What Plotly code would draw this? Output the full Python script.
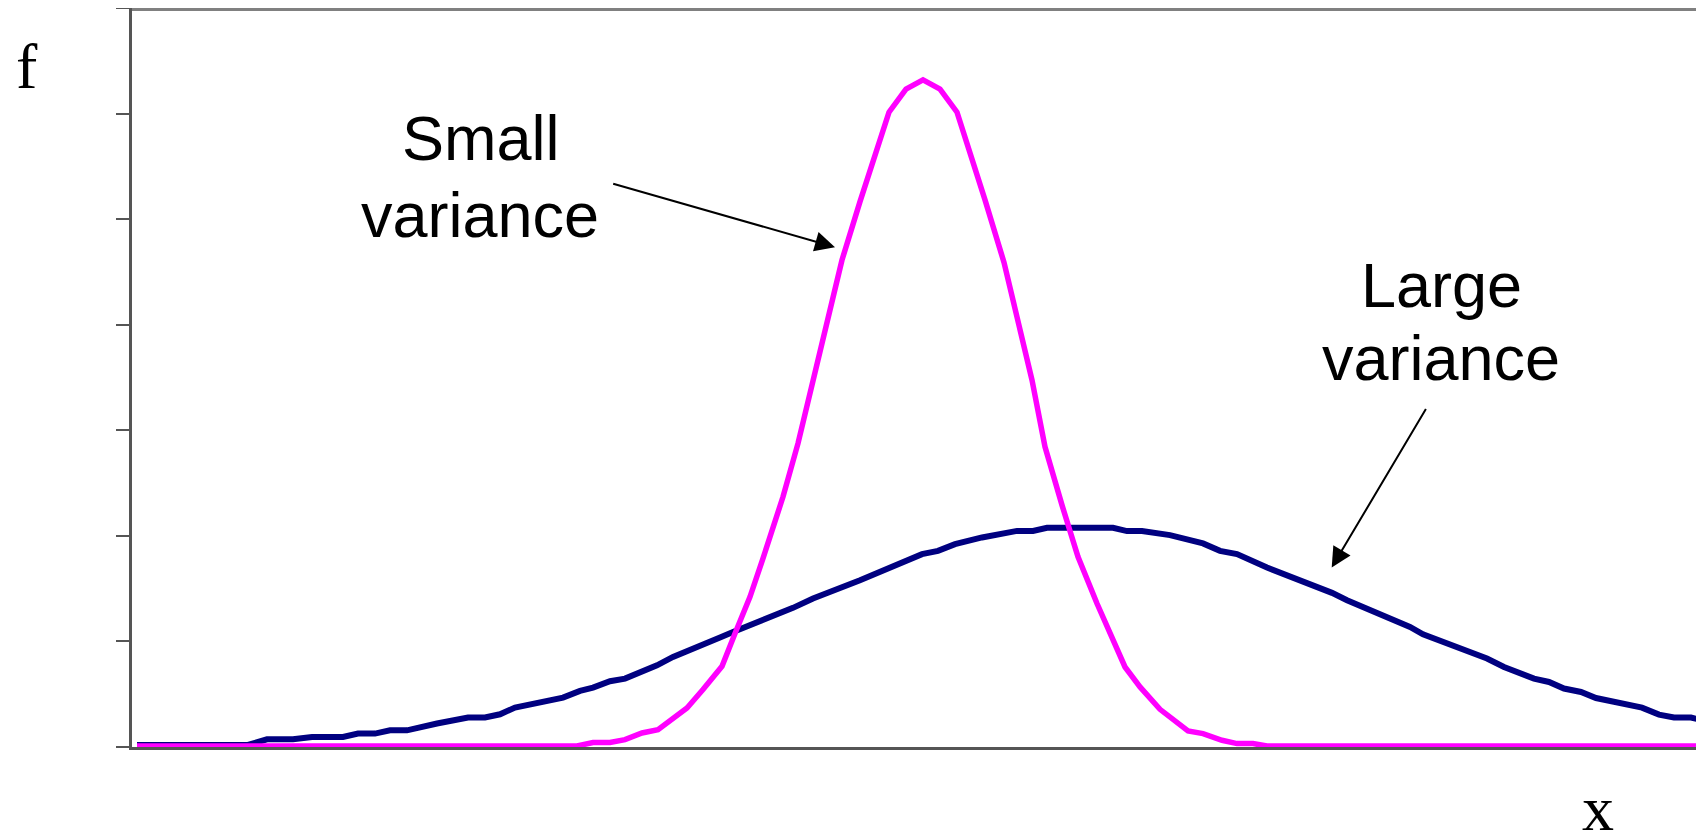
import plotly.graph_objects as go

# Large variance curve (navy) - x in chart units, f values in tick units
large_x = [0.05, 1.16, 1.35, 1.61, 1.80, 2.11, 2.26, 2.43, 2.58, 2.75, 3.05, 3.36, 3.53, 3.68, 3.83,
           4.31, 4.48, 4.61, 4.78, 4.93, 5.25, 5.41, 5.88, 6.01, 6.61, 6.81, 7.28, 7.45, 7.61, 7.90,
           8.06, 8.23, 8.50, 8.85, 9.01, 9.15, 9.81, 9.95, 10.10, 10.38, 10.71, 10.88, 11.05, 11.35,
           12.00, 12.15, 12.78, 12.91, 13.55, 13.72, 14.02, 14.17, 14.32, 14.49, 14.64, 14.95, 15.10,
           15.27, 15.42, 15.59, 15.72, 15.85]
large_f = [0.02, 0.02, 0.073, 0.073, 0.095, 0.095, 0.127, 0.127, 0.158, 0.158, 0.222, 0.279, 0.279, 0.31, 0.373,
           0.468, 0.531, 0.563, 0.623, 0.648, 0.774, 0.853, 1.037, 1.09, 1.318, 1.407, 1.58, 1.644, 1.716, 1.827,
           1.858, 1.921, 1.985, 2.047, 2.047, 2.076, 2.076, 2.045, 2.045, 2.007, 1.928, 1.858, 1.827, 1.70,
           1.46, 1.39, 1.137, 1.068, 0.838, 0.758, 0.648, 0.616, 0.554, 0.521, 0.464, 0.411, 0.373,
           0.307, 0.279, 0.279, 0.246, 0.22]

# Small variance curve (magenta)
small_x = [0.05, 4.45, 4.61, 4.78, 4.93, 5.10, 5.26, 5.55, 5.71, 5.90, 6.03, 6.18, 6.31, 6.46, 6.51,
           6.66, 6.81, 7.10, 7.28, 7.57, 7.74, 7.91, 8.08, 8.25, 8.53, 8.72, 9.00, 9.13, 9.30,
           9.46, 9.65, 9.93, 10.08, 10.28, 10.56, 10.71, 10.90, 11.05, 11.21, 11.35, 15.85]
small_f = [0.01, 0.01, 0.042, 0.042, 0.07, 0.133, 0.165, 0.37, 0.544, 0.765, 1.075, 1.422, 1.786, 2.227, 2.37,
           2.876, 3.476, 4.613, 5.166, 6.013, 6.231, 6.319, 6.231, 6.013, 5.182, 4.59, 3.476, 2.844, 2.291,
           1.801, 1.359, 0.758, 0.569, 0.357, 0.152, 0.127, 0.064, 0.032, 0.032, 0.01, 0.01]

y_ticks = [0, 1, 2, 3, 4, 5, 6, 7]

fig = go.Figure()
fig.add_trace(go.Scatter(x=large_x, y=large_f, mode="lines",
                         line=dict(color="#000080", width=6), showlegend=False, hoverinfo="skip"))
fig.add_trace(go.Scatter(x=small_x, y=small_f, mode="lines",
                         line=dict(color="#FF00FF", width=5.5), showlegend=False, hoverinfo="skip"))

sans = dict(family="Liberation Sans, Arial, sans-serif", size=63, color="black")
serif = dict(family="Liberation Serif, Times New Roman, serif", size=64, color="black")

labels = [
    ("Small", 3.49, 5.77),
    ("variance", 3.48, 5.04),
    ("Large", 13.09, 4.38),
    ("variance", 13.085, 3.684),
]
for txt, lx, ly in labels:
    fig.add_annotation(x=lx, y=ly, xref="x", yref="y", text=txt, showarrow=False,
                       font=sans, xanchor="center", yanchor="middle")

fig.add_annotation(x=-0.0665, y=0.9215, xref="paper", yref="paper", text="f", showarrow=False,
                   font=serif, xanchor="center", yanchor="middle")
fig.add_annotation(x=0.928, y=-0.0835, xref="paper", yref="paper", text="x", showarrow=False,
                   font=serif, xanchor="center", yanchor="middle")

arrows = [
    # tip x, tip y, tail x, tail y
    (7.03, 4.734, 4.797, 5.34),
    (11.997, 1.70, 12.948, 3.215),
]
for tx, ty, sx, sy in arrows:
    fig.add_annotation(x=tx, y=ty, ax=sx, ay=sy, xref="x", yref="y", axref="x", ayref="y",
                       text="", showarrow=True, arrowhead=2, arrowsize=2, arrowwidth=2,
                       arrowcolor="black", standoff=0, startstandoff=0)

# top border band of plot area (about 3 px thick)
fig.add_shape(type="rect", xref="paper", yref="paper", x0=0, x1=1, y0=0.9960, y1=1.0,
              fillcolor="#808080", line=dict(width=0), layer="above")

fig.update_layout(
    width=1704, height=838,
    margin=dict(l=124, r=0, t=0, b=99),
    paper_bgcolor="white", plot_bgcolor="white",
    xaxis=dict(range=[0, 15.80], showgrid=False, zeroline=False, showticklabels=False,
               ticks="", showline=True, linecolor="#555555", linewidth=2.5, fixedrange=True),
    yaxis=dict(range=[0, 7], tickvals=y_ticks, showgrid=False, zeroline=False, showticklabels=False,
               ticks="outside", ticklen=13, tickwidth=2, tickcolor="#555555",
               showline=True, linecolor="#555555", linewidth=2.5, fixedrange=True),
)

fig.write_html("out.html")
